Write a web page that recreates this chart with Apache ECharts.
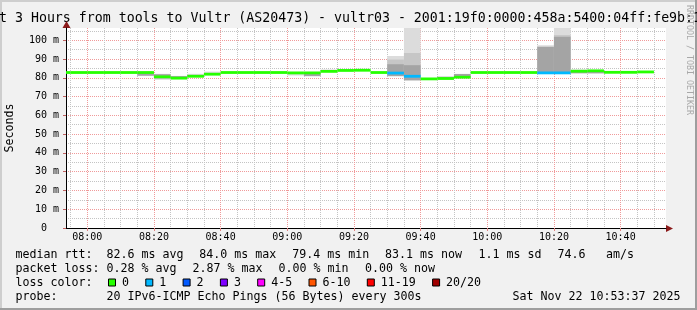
<!DOCTYPE html>
<html><head><meta charset="utf-8">
<script src="https://cdn.jsdelivr.net/npm/echarts@6/dist/echarts.min.js"></script>
<style>html,body{margin:0;padding:0;background:#f1f1f1}#c{width:697px;height:310px}</style>
</head><body><div id="c"></div>
<script>
// ---------------- data ----------------
const TITLE = 'Last 3 Hours from tools to Vultr (AS20473) - vultr03 - 2001:19f0:0000:458a:5400:04ff:fe9b:1';
const Y_NAME = 'Seconds';
const WATERMARK = 'RRDTOOL / TOBI OETIKER';
// time axis in minutes of day
const X_MIN = 7 * 60 + 53 + 37 / 60;   // 07:53:37
const X_MAX = 10 * 60 + 53 + 37 / 60;  // 10:53:37
const Y_MAX = 106.5;                   // ms
const FIRST_SLOT_END = 7 * 60 + 55;    // 07:55, 5-minute RRD steps
const STEP = 5;

// median rtt per 5-minute slot (ms)
const median = [82.8, 82.8, 82.8, 82.8, 82.8, 82.8, 80.5, 79.8, 80.8, 81.9,
                82.8, 82.8, 82.8, 82.8, 82.6, 82.6, 83.4, 83.9, 84.0, 82.8,
                82.5, 80.8, 79.4, 79.6, 80.3, 82.8, 82.8, 82.8, 82.8, 82.6,
                82.6, 83.5, 83.7, 82.9, 82.9, 83.1];
// lost pings per slot (of 20)
const loss = [0, 0, 0, 0, 0, 0, 0, 0, 0, 0,
              0, 0, 0, 0, 0, 0, 0, 0, 0, 0,
              1, 1, 0, 0, 0, 0, 0, 0, 0, 1,
              1, 0, 0, 0, 0, 0];
// smoke bands (ms): outer (lightest), middle, inner (darkest)
const N = null;
const outerLo = [N, N, N, N, N, 80.9, 78.9, 79.4, 80.5, 81.6, N, N, N, N, 81.2, 80.8, 83.1, 83.7, N, N,
                 80.8, 78.6, N, N, 79.9, N, N, N, N, 82.0, 82.0, 82.3, N, N, N, N];
const outerHi = [N, N, N, N, N, 83.0, 82.1, 81.0, 82.1, 83.3, N, N, N, N, 82.8, 82.7, 84.3, 84.5, N, N,
                 91.6, 130, N, N, 82.1, N, N, N, N, 97.3, 130, 84.4, N, N, N, N];
const midLo   = [N, N, N, N, N, N, N, N, N, N, N, N, N, N, N, N, N, N, N, N,
                 80.9, 78.7, N, N, N, N, N, N, N, 82.1, 82.1, N, N, N, N, N];
const midHi   = [N, N, N, N, N, N, N, N, N, N, N, N, N, N, N, N, N, N, N, N,
                 89.7, 93.2, N, N, N, N, N, N, N, 96.6, 102.7, N, N, N, N, N];
const innerLo = [N, N, N, N, N, 81.1, 79.6, 79.6, 80.6, N, N, N, N, N, N, 80.9, 83.2, N, N, N,
                 80.9, 78.7, N, 79.4, 80.0, N, N, N, N, 82.2, 82.2, 82.4, 82.3, N, N, N];
const innerHi = [N, N, N, N, N, 82.8, 81.9, 80.9, 81.5, N, N, N, N, N, N, 82.6, 84.2, N, N, N,
                 87.2, 86.7, N, 80.6, 82.0, N, N, N, N, 96.4, 101.8, 83.6, 83.7, N, N, N];

const lossLabels = ['0', '1', '2', '3', '4-5', '6-10', '11-19', '20/20'];
const lossUpper  = [0, 1, 2, 3, 5, 10, 19, 20];
const lossColors = ['#26ff00', '#00b8ff', '#0059ff', '#7e00ff', '#ff00ff', '#ff5500', '#ff0000', '#a10000'];

const statLines = [
  [['median rtt:', 15.5], ['82.6 ms avg', 106.6], ['84.0 ms max', 199.3], ['79.4 ms min', 292.3],
   ['83.1 ms now', 385], ['1.1 ms sd', 478.5], ['74.6', 557.6], ['am/s', 606]],
  [['packet loss:', 15.5], ['0.28 % avg', 106.6], ['2.87 % max', 192.6], ['0.00 % min', 278.6], ['0.00 % now', 365]],
];
const lossTitle = 'loss color:';
const probeLine = [['probe:', 15.5], ['20 IPv6-ICMP Echo Pings (56 Bytes) every 300s', 106.6]];
const stamp = 'Sat Nov 22 10:53:37 2025';

// ---------------- build ----------------
const FONT = '"DejaVu Sans Mono", monospace';
const LEG_FS = 11.63, CW = 7.0;
const nn = v => (v == null ? NaN : v);
const slotEnd = i => FIRST_SLOT_END + i * STEP;
const lossIndex = l => lossUpper.findIndex(u => l <= u);

const smokeData = median.map((m, i) => [slotEnd(i) - STEP, slotEnd(i),
  nn(outerLo[i]), nn(outerHi[i]), nn(midLo[i]), nn(midHi[i]), nn(innerLo[i]), nn(innerHi[i])]);
const medianData = median.map((m, i) => [slotEnd(i) - STEP, slotEnd(i), m, loss[i]]);

const pad = n => (n < 10 ? '0' : '') + n;
const fmtTime = v => { const t = Math.round(v); return pad(Math.floor(t / 60)) + ':' + pad(t % 60); };

function renderSmoke(params, api) {
  const x0 = Math.max(api.value(0), X_MIN), x1 = Math.min(api.value(1), X_MAX);
  const bands = [[2, 3, '#dcdcdc'], [4, 5, '#c6c6c6'], [6, 7, '#a4a4a4']];
  const children = [];
  bands.forEach(([a, b, col]) => {
    const lo = api.value(a), hi = api.value(b);
    if (isNaN(lo) || isNaN(hi)) return;
    const p0 = api.coord([x0, Math.min(hi, Y_MAX)]);
    const p1 = api.coord([x1, Math.max(lo, 0)]);
    children.push({ type: 'rect', shape: { x: p0[0], y: p0[1], width: p1[0] - p0[0], height: p1[1] - p0[1] },
      style: { fill: col } });
  });
  return { type: 'group', children };
}
function renderMedian(params, api) {
  const x0 = Math.max(api.value(0), X_MIN), x1 = Math.min(api.value(1), X_MAX);
  const p0 = api.coord([x0, api.value(2)]);
  const p1 = api.coord([x1, api.value(2)]);
  return { type: 'rect', shape: { x: p0[0], y: p0[1] - 1.4, width: p1[0] - p0[0], height: 2.8 },
    style: { fill: lossColors[lossIndex(api.value(3))] } };
}

const graphics = [];
// frame shading
graphics.push({ type: 'rect', shape: { x: 0, y: 0, width: 697, height: 2 }, style: { fill: '#cecece' }, silent: true });
graphics.push({ type: 'rect', shape: { x: 0, y: 0, width: 2, height: 310 }, style: { fill: '#cecece' }, silent: true });
graphics.push({ type: 'rect', shape: { x: 0, y: 308, width: 697, height: 2 }, style: { fill: '#9e9e9e' }, silent: true });
graphics.push({ type: 'rect', shape: { x: 695, y: 0, width: 2, height: 310 }, style: { fill: '#9e9e9e' }, silent: true });
// title
graphics.push({ type: 'text', x: -24.9, y: 19, style: { text: TITLE, font: '13.25px ' + FONT, fill: '#000', verticalAlign: 'middle' } });
// watermark
graphics.push({ type: 'text', x: 689.5, y: 60, rotation: -Math.PI / 2,
  style: { text: WATERMARK, font: '8.3px ' + FONT, fill: '#a8a8a8', align: 'center', verticalAlign: 'middle' } });
// y name
graphics.push({ type: 'text', x: 10.3, y: 128, rotation: Math.PI / 2,
  style: { text: Y_NAME, font: LEG_FS + 'px ' + FONT, fill: '#000', align: 'center', verticalAlign: 'middle' } });
// axis arrows
graphics.push({ type: 'polygon', shape: { points: [[666, 225], [673, 228.5], [666, 232]] }, style: { fill: '#8b1a1a' } });
graphics.push({ type: 'polygon', shape: { points: [[62.5, 28], [66.5, 21], [70.5, 28]] }, style: { fill: '#8b1a1a' } });
// stats lines
const LINE_Y = [254.5, 268.5, 282.5, 296.5];
statLines.forEach((line, li) => line.forEach(([t, x]) => graphics.push({ type: 'text', x, y: LINE_Y[li],
  style: { text: t, font: LEG_FS + 'px ' + FONT, fill: '#000', verticalAlign: 'middle' } })));
graphics.push({ type: 'text', x: 15.5, y: LINE_Y[2], style: { text: lossTitle, font: LEG_FS + 'px ' + FONT, fill: '#000', verticalAlign: 'middle' } });
let bx = 108;
lossLabels.forEach((lab, i) => {
  graphics.push({ type: 'rect', shape: { x: bx + 0.5, y: LINE_Y[2] - 3.5, width: 7, height: 7 },
    style: { fill: lossColors[i], stroke: '#000', lineWidth: 1 } });
  graphics.push({ type: 'text', x: bx + 14, y: LINE_Y[2], style: { text: lab, font: LEG_FS + 'px ' + FONT, fill: '#000', verticalAlign: 'middle' } });
  bx = bx + 14 + lab.length * CW + 16.3;
});
probeLine.forEach(([t, x]) => graphics.push({ type: 'text', x, y: LINE_Y[3],
  style: { text: t, font: LEG_FS + 'px ' + FONT, fill: '#000', verticalAlign: 'middle' } }));
graphics.push({ type: 'text', x: 680.5, y: LINE_Y[3], style: { text: stamp, font: LEG_FS + 'px ' + FONT, fill: '#000', align: 'right', verticalAlign: 'middle' } });

const chart = echarts.init(document.getElementById('c'), null, { renderer: 'canvas', width: 697, height: 310 });
chart.setOption({
  animation: false,
  backgroundColor: '#f1f1f1',
  grid: { left: 66, right: 31, top: 28, bottom: 82, show: true, backgroundColor: '#ffffff', borderWidth: 0 },
  xAxis: {
    type: 'value', min: X_MIN, max: X_MAX, splitNumber: 9,
    axisLine: { show: true, onZero: false, lineStyle: { color: '#000', width: 1 } },
    axisTick: { show: true, length: 3, lineStyle: { color: '#e08080' } },
    minorTick: { show: false, splitNumber: 4 },
    axisLabel: { formatter: fmtTime, showMinLabel: false, showMaxLabel: false, margin: 4,
      fontFamily: FONT, fontSize: 10, color: '#000' },
    splitLine: { show: true, showMinLine: false, showMaxLine: false, lineStyle: { color: '#f09a9a', type: [1, 1], width: 1 } },
    minorSplitLine: { show: true, lineStyle: { color: '#c4c4c4', type: [1, 1], width: 1 } }
  },
  yAxis: {
    type: 'value', min: 0, max: Y_MAX, splitNumber: 10,
    axisLine: { show: true, onZero: false, lineStyle: { color: '#000', width: 1 } },
    axisTick: { show: true, length: 3, lineStyle: { color: '#c06060' } },
    minorTick: { show: false, splitNumber: 2 },
    axisLabel: { formatter: v => (v === 0 ? '0  ' : v + ' m'), showMaxLabel: false, margin: 7,
      fontFamily: FONT, fontSize: 10, color: '#000' },
    splitLine: { show: true, showMinLine: false, showMaxLine: false, lineStyle: { color: '#f09a9a', type: [1, 1], width: 1 } },
    minorSplitLine: { show: true, lineStyle: { color: '#c4c4c4', type: [1, 1], width: 1 } }
  },
  series: [
    { type: 'custom', name: 'smoke', renderItem: renderSmoke, data: smokeData, clip: true,
      encode: { x: [0, 1], y: [2, 3] }, z: 2 },
    { type: 'custom', name: 'median', renderItem: renderMedian, data: medianData, clip: true,
      encode: { x: [0, 1], y: 2 }, z: 3 }
  ],
  graphic: graphics
});
</script></body></html>
